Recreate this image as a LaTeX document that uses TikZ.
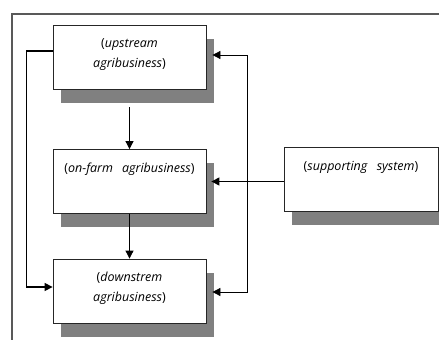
\documentclass[tikz,border=0pt]{standalone}
\usepackage{fontspec}
\setmainfont{Open Sans}
\usetikzlibrary{arrows.meta,shadows}

\begin{document}
\begin{tikzpicture}[x=1pt,y=-1pt,
	box/.style={draw=black!85,line width=0.8pt,fill=white,minimum width=153pt,inner xsep=0pt,inner ysep=0pt,
		text height=23pt,text depth=41pt,align=center,font=\fontsize{12.5}{20}\selectfont,
		general shadow={fill=black!50,shadow xshift=8pt,shadow yshift=-13.5pt}},
	twoline/.style={box,text height=42pt,text depth=22pt},
	tip/.style={-{Triangle[length=8pt,width=8pt]},line width=0.8pt},
	tips/.style={{Triangle[length=8pt,width=8pt]}-{Triangle[length=8pt,width=8pt]},line width=0.8pt},
	frame/.style={draw=black!65,line width=1.3pt}]
	\useasboundingbox (0,0) rectangle (439,340);
	\draw [frame] (439,14) -- (12,14) -- (12,340);
	\node [twoline] (up) at (129.5,57) {(\textit{upstream}\\\textit{agribusiness})};
	\node [box] (on) at (129.5,181.5) {(\textit{on-farm}\hspace{9pt}\textit{agribusiness})};
	\node [box,minimum width=154pt] (supp) at (361,179) {(\textit{supporting}\hspace{9pt}\textit{system})};
	\node [twoline] (down) at (129.5,291) {(\textit{downstrem}\\\textit{agribusiness})};
	\draw [tip] ([yshift=-18pt]up.south) -- (on.north);
	\draw [tip] (on.south) -- (down.north);
	\draw [tip,line width=1.2pt] ([yshift=6pt]up.west) -- ++(-26pt,0) |- ([yshift=4pt]down.west);
	\draw [tips] ([xshift=6pt,yshift=2pt]up.east) -- ++(35pt,0) |- ([xshift=6pt,yshift=-1pt]down.east);
	\draw [tip,line width=1.2pt] ([yshift=-2.5pt]supp.west) -- ([xshift=5pt]on.east);
\end{tikzpicture}
\end{document}
